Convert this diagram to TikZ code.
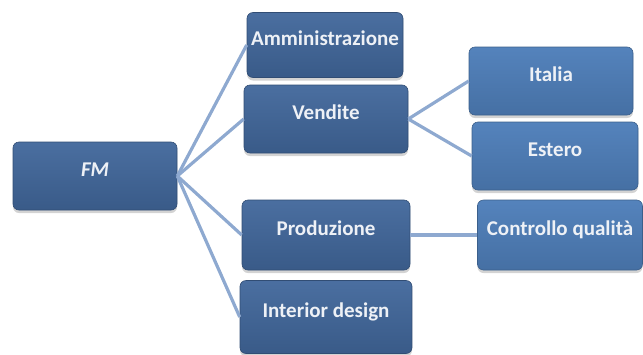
\documentclass[tikz,border=0pt]{standalone}
\usepackage{fontspec}
\setmainfont{Carlito}
\usepackage{tikz}
\usetikzlibrary{shadows}
\definecolor{lvlone}{HTML}{41679B}
\definecolor{lvltwo}{HTML}{4F7FBA}
\definecolor{linkblue}{HTML}{8EA9D0}
\definecolor{labelwhite}{HTML}{EEF1F6}
\tikzset{
  unit/.style  ={rectangle, rounded corners=6pt, draw=lvlone!75!black, line width=0.6pt,
                 top color=lvlone!95!white, bottom color=lvlone!88!black,
                 drop shadow={shadow xshift=0pt, shadow yshift=-3pt, opacity=0.35},
                 minimum width=164pt, minimum height=68pt, inner sep=0pt,
                 text height=13pt, text depth=13pt,
                 text=labelwhite, font=\fontsize{21}{24}\selectfont\bfseries, align=center},
  sub/.style   ={unit, draw=lvltwo!75!black, top color=lvltwo!97!white,
                 bottom color=lvltwo!88!black},
  link/.style  ={draw=linkblue, line width=3.2pt},
}
\begin{document}
\begin{tikzpicture}[x=1pt, y=-1pt]
\useasboundingbox (0,0) rectangle (643,354);
\node[unit] (fm)    at (95,176)  {\itshape FM};
\node[unit, minimum width=156pt, minimum height=65pt] (amm) at (325,45) {Amministrazione};
\node[unit] (vend)  at (326,119) {Vendite};
\node[unit, minimum width=168pt, minimum height=70pt] (prod) at (326,235) {Produzione};
\node[unit, minimum width=172pt, minimum height=73pt] (intd) at (326,317) {Interior design};
\node[sub]  (ita)   at (551,81)  {Italia};
\node[sub, minimum width=166pt] (est) at (555,156) {Estero};
\node[sub, minimum width=165pt, minimum height=70pt] (cq) at (560,235) {Controllo qualità};
% connectors
\draw[link] (fm.east) -- (amm.west);
\draw[link] (fm.east) -- (vend.west);
\draw[link] (fm.east) -- (prod.west);
\draw[link] (fm.east) -- (intd.west);
\draw[link] (vend.east) -- (ita.west);
\draw[link] (vend.east) -- (est.west);
\draw[link] (prod.east) -- (cq.west);
\end{tikzpicture}
\end{document}
